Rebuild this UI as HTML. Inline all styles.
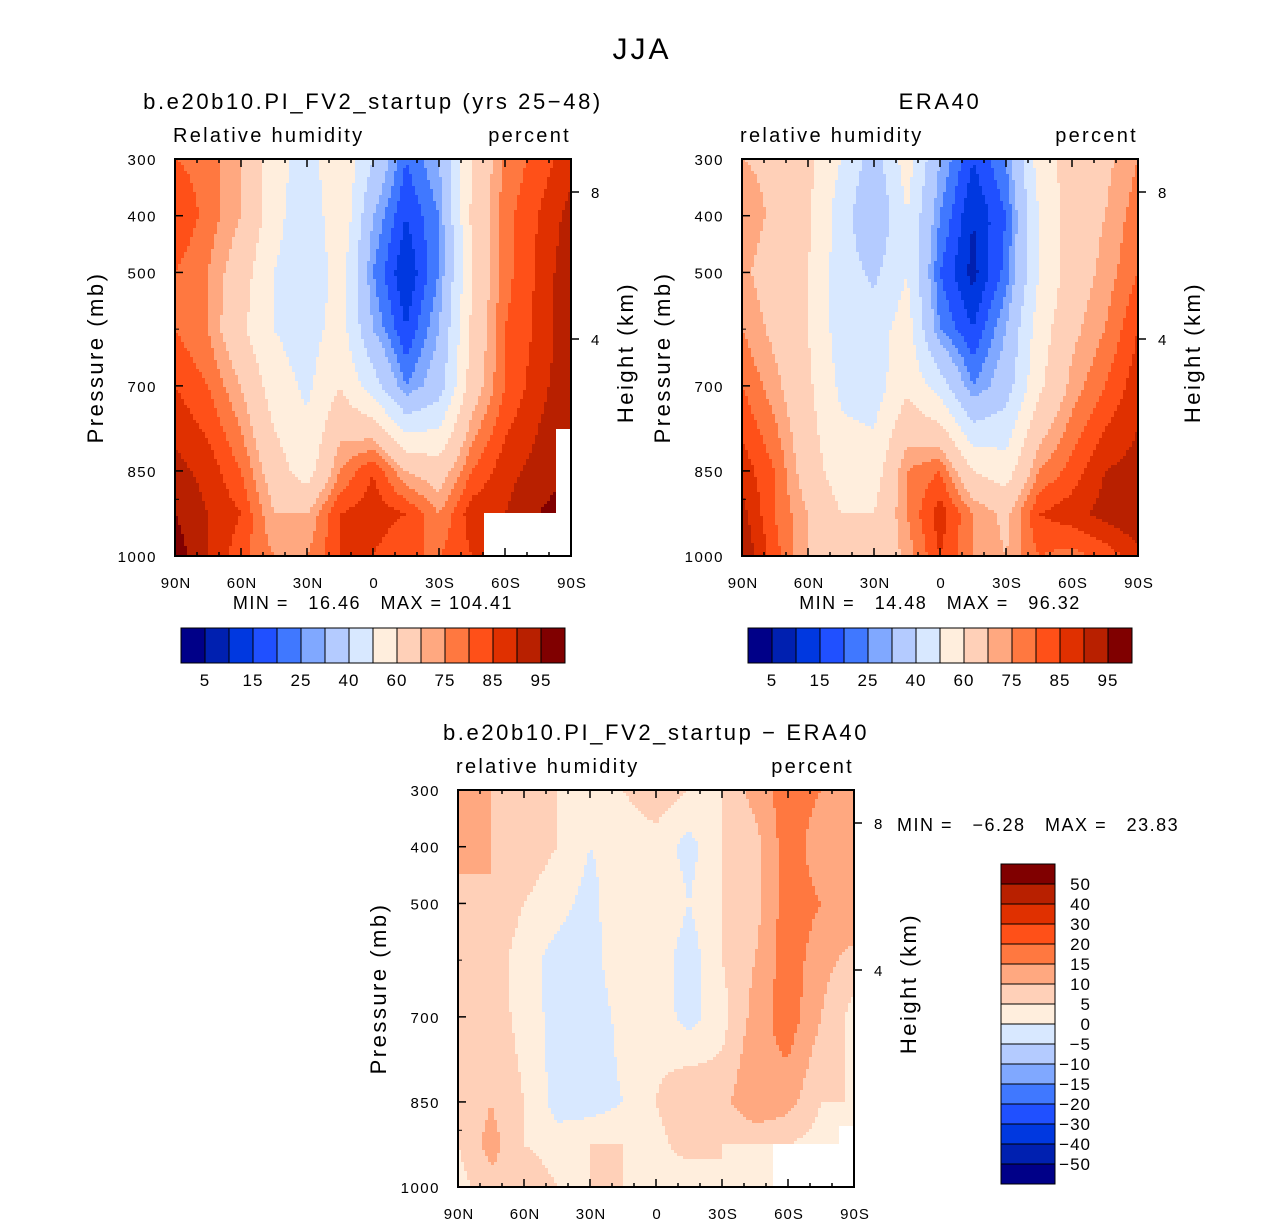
<!DOCTYPE html>
<html><head><meta charset="utf-8">
<style>
body{margin:0;background:#fff;}
svg{display:block;font-family:"Liberation Sans",sans-serif;}
</style></head>
<body>
<svg id="root" width="1285" height="1225" viewBox="0 0 1285 1225" xmlns="http://www.w3.org/2000/svg">
<rect width="1285" height="1225" fill="#fff"/>
<text x="642" y="59" font-size="30" text-anchor="middle" letter-spacing="3">JJA</text>
</svg>
<script>
const lats=[90,75,60,45,30,15,0,-15,-30,-45,-60,-75,-90];
const plevs=[300,400,500,600,700,850,925,1000];
const modelRH=[
[80,78,70,55,45,60,40,20,30,60,76,82,88],
[85,78,70,55,40,60,30,15,25,62,78,85,92],
[80,75,65,50,40,55,25,10,25,60,78,86,94],
[80,75,62,50,45,55,30,15,30,62,80,86,94],
[85,80,70,55,48,60,45,25,35,65,80,88,94],
[92,88,80,65,55,75,85,70,65,80,88,92,95],
[95,90,85,70,70,85,88,85,75,88,90,95,98],
[98,90,82,75,75,85,85,80,80,85,85,88,90]];
const eraRH=[
[70,68,62,50,35,55,30,15,25,55,65,68,75],
[75,68,62,45,30,50,25,10,20,50,65,70,78],
[72,65,60,45,38,50,20,8,22,50,65,72,80],
[75,68,60,45,45,55,25,15,30,55,68,75,85],
[80,72,62,48,45,58,45,25,35,58,72,80,88],
[88,80,65,55,55,75,80,60,55,75,82,90,92],
[92,80,70,60,60,75,88,75,68,85,88,92,95],
[95,82,70,62,62,72,85,75,70,80,78,82,88]];
const diffRH=[
[15,10,8,5,2,5,8,5,5,12,18,15,12],
[12,10,8,5,0,2,3,-2,5,8,18,12,12],
[8,10,5,2,-2,5,5,0,5,8,18,15,15],
[5,8,2,-2,-3,5,3,-3,5,10,18,12,8],
[5,8,3,-2,-4,2,3,-2,3,12,18,10,3],
[5,10,5,-2,-3,0,5,10,8,15,12,5,5],
[5,12,5,2,5,5,3,8,5,5,5,3,3],
[3,8,10,5,5,5,3,0,5,3,5,3,3]];
const rhLevels=[5,10,15,20,25,30,40,50,60,70,75,80,85,90,95];
const rhLabels=["5","15","25","40","60","75","85","95"];
const diffLevels=[-50,-40,-30,-20,-15,-10,-5,0,5,10,15,20,30,40,50];
const diffLabels=["50","40","30","20","15","10","5","0","−5","−10","−15","−20","−30","−40","−50"];
const colors=["#000088","#0020b0","#0038e0","#2050ff","#4078ff","#80a8ff","#b4cbff","#d8e8ff","#ffeedd","#ffd0b8","#ffa880","#ff7840","#ff5018","#e03000","#b82000","#800000"];
const masks1=[[-50.5,-90,926,1000],[-83,-90,778,1000]];
const masks3=[[-53.6,-90,926,1000],[-83.6,-90,895,1000]];

const NS="http://www.w3.org/2000/svg";
const root=document.getElementById('root');
function mk(tag,attrs,parent){const e=document.createElementNS(NS,tag);for(const k in attrs)e.setAttribute(k,attrs[k]);(parent||root).appendChild(e);return e;}
function txt(s,x,y,size,anchor,parent,extra){const t=mk('text',Object.assign({x:x,y:y,'font-size':size,'text-anchor':anchor||'start'},extra||{}),parent);t.textContent=s;return t;}

function sample(data,lat,p){
  let i=0;while(i<lats.length-2&&lat<lats[i+1])i++;
  let j=0;while(j<plevs.length-2&&p>plevs[j+1])j++;
  const tx=(lats[i]-lat)/(lats[i]-lats[i+1]);
  const ty=(p-plevs[j])/(plevs[j+1]-plevs[j]);
  const a=data[j][i],b=data[j][i+1],c=data[j+1][i],d=data[j+1][i+1];
  return (a*(1-tx)+b*tx)*(1-ty)+(c*(1-tx)+d*tx)*ty;
}
function colorFor(v,levels){let k=0;while(k<levels.length&&v>=levels[k])k++;return colors[k];}

function panel(name,x0,y0,data,levels,masks,title,lname,tx){
  const W=396,H=397;
  const g=mk('g',{},root);
  
  
  const xs=lat=>x0+(90-lat)/180*W;
  const yp=p=>y0+(p-300)/700*H;
  const cells=mk('g',{'shape-rendering':'crispEdges'},g);
  
  
  const step=3;
  for(let py=0;py<H;py+=step){
    const p=300+(py+step/2)/H*700;
    let runStart=0,runCol=null;
    for(let px=0;px<=W;px+=step){
      let col=null;
      if(px<W){
        const lat=90-(px+step/2)/W*180;
        let masked=false;
        for(const m of masks){if(lat<=m[0]&&lat>=m[1]&&p>=m[2]&&p<=m[3])masked=true;}
        col=masked?'#ffffff':colorFor(sample(data,lat,p),levels);
      }
      if(col!==runCol){
        if(runCol!==null){
          mk('rect',{x:x0+runStart,y:y0+py,width:Math.min(px,W)-runStart+0.5,height:Math.min(step+0.6,H-py),fill:runCol},cells);
        }
        runStart=px;runCol=col;
      }
    }
  }
  mk('rect',{x:x0,y:y0,width:W,height:H,fill:'none',stroke:'#000','stroke-width':2},g);
  [300,400,500,700,850,1000].forEach(p=>{
    const y=yp(p);
    mk('line',{x1:x0,y1:y,x2:x0+8,y2:y,stroke:'#000','stroke-width':1.5},g);
    txt(String(p),x0-18,y+6,15,'end',g,{'letter-spacing':'1.5'});
  });
  [600,900].forEach(p=>{mk('line',{x1:x0,y1:yp(p),x2:x0+4,y2:yp(p),stroke:'#000'},g);});
  const latLab={90:'90N',60:'60N',30:'30N',0:'0','-30':'30S','-60':'60S','-90':'90S'};
  for(let lat=90;lat>=-90;lat-=10){
    const x=xs(lat);const major=lat%30===0;const L=major?8:4;
    mk('line',{x1:x,y1:y0+H,x2:x,y2:y0+H-L,stroke:'#000','stroke-width':1.5},g);
    mk('line',{x1:x,y1:y0,x2:x,y2:y0+L,stroke:'#000','stroke-width':1.5},g);
    if(major)txt(latLab[lat],x+1,y0+H+32,15,'middle',g,{'letter-spacing':'1'});
  }
  [[8,y0+33],[4,y0+180]].forEach(h=>{
    mk('line',{x1:x0+W,y1:h[1],x2:x0+W+8,y2:h[1],stroke:'#000','stroke-width':1.5},g);
    txt(String(h[0]),x0+W+20,h[1]+6,15,'start',g);
  });
  txt(title,tx,y0-50,22,'middle',g,{'letter-spacing':'2.6'});
  txt(lname,x0-2,y0-17,20,'start',g,{'letter-spacing':'2.3'});
  txt('percent',x0+W,y0-17,20,'end',g,{'letter-spacing':'2.3'});
  const pl=txt('Pressure (mb)',0,0,22,'middle',g,{transform:`translate(${x0-72},${y0+H/2}) rotate(-90)`,'letter-spacing':'2.5'});
  
  const hl=txt('Height (km)',0,0,22,'middle',g,{transform:`translate(${x0+W+62},${y0+H/2-5}) rotate(-90)`,'letter-spacing':'2.5'});
  
}
function hbar(name,x0,y0){
  const g=mk('g',{},root);
  
  
  colors.forEach((c,i)=>{mk('rect',{x:x0+i*24,y:y0,width:24,height:35,fill:c,stroke:'#000','stroke-width':1},g);});
  rhLabels.forEach((l,i)=>{txt(l,x0+24*(2*i+1),y0+58,17,'middle',g,{'letter-spacing':'1'});});
}
panel('panel-model',175,159,modelRH,rhLevels,masks1,'b.e20b10.PI_FV2_startup (yrs 25−48)','Relative humidity',373);
panel('panel-era40',742,159,eraRH,rhLevels,[],'ERA40','relative humidity',940);
panel('panel-diff',458,790,diffRH,diffLevels,masks3,'b.e20b10.PI_FV2_startup − ERA40','relative humidity',656);
txt('MIN =   16.46   MAX = 104.41',373,609,18,'middle',root,{'xml:space':'preserve',style:'white-space:pre','letter-spacing':'1.5'});
txt('MIN =   14.48   MAX =   96.32',940,609,18,'middle',root,{'xml:space':'preserve',style:'white-space:pre','letter-spacing':'1.5'});
txt('MIN =   −6.28   MAX =   23.83',897,831,18,'start',root,{'xml:space':'preserve',style:'white-space:pre','letter-spacing':'1.5'});
hbar('colorbar-model',181,628);
hbar('colorbar-era40',748,628);
(function(){
  const g=mk('g',{},root);
  
  
  const n=colors.length;
  for(let i=0;i<n;i++){mk('rect',{x:1001,y:864+i*20,width:54,height:20,fill:colors[n-1-i],stroke:'#000','stroke-width':1},g);}
  diffLabels.forEach((l,i)=>{txt(l,1091,890+i*20,17,'end',g,{'letter-spacing':'1'});});
})();
</script>
</body></html>
